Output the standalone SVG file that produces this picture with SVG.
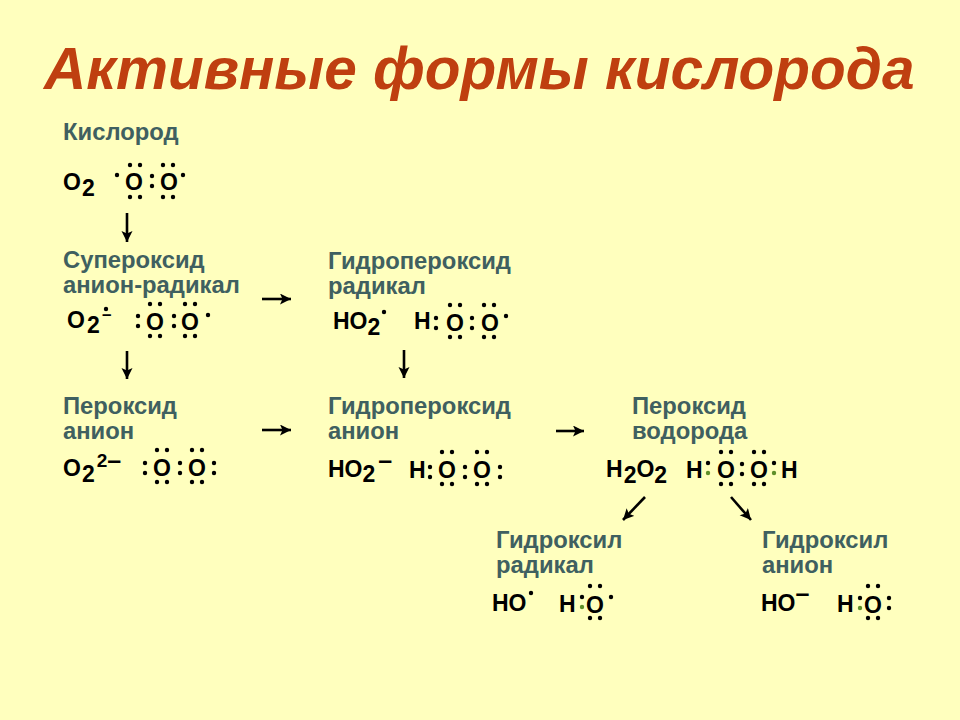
<svg xmlns="http://www.w3.org/2000/svg" width="960" height="720" viewBox="0 0 960 720">
<style>
text{font-family:"Liberation Sans",Arial,sans-serif;font-weight:bold}
.t{font-size:58.500px;font-style:italic;fill:#bf3f10}
.l{font-size:23.800px;fill:#3f6060}
.f,.o{font-size:23px;fill:#000}
.o{text-anchor:middle}
.m{font-size:25px}
.c{stroke:#000;stroke-width:2.600;fill:none;marker-end:url(#a)}
circle{fill:#000}
.g{fill:#5f8f2a}
</style>
<defs>
<marker id="a" markerUnits="userSpaceOnUse" markerWidth="12" markerHeight="12" refX="11" refY="5.500" orient="auto"><path d="M0 0L11 5.500L0 11L2.500 5.500Z" fill="#000"/></marker>
<g id="lp"><circle cx="-5" cy="-17" r="2.200"/><circle cx="5" cy="-17" r="2.200"/><circle cx="-5" cy="15" r="2.200"/><circle cx="5" cy="15" r="2.200"/></g>
<g id="co"><circle cy="-5" r="2.200"/><circle cy="5" r="2.200"/></g>
<g id="cg"><circle cy="-5" r="2.200"/><circle class="g" cy="5" r="2.200"/></g>
<circle id="d" r="2.200"/>
</defs>
<rect id="bg" width="960" height="720" fill="#ffffbe"/>
<text class="t" x="44" y="89">Активные формы кислорода</text>

<g id="connectors">
<path class="c" d="M127 213V242"/>
<path class="c" d="M127 351V379"/>
<path class="c" d="M262 299H291"/>
<path class="c" d="M262 430H291"/>
<path class="c" d="M404 350V378"/>
<path class="c" d="M556 431H584"/>
<path class="c" d="M645 497L623 520"/>
<path class="c" d="M731 497L751 520"/>
</g>

<g id="oxygen">
<text class="l" x="63" y="140">Кислород</text>
<text class="f" x="63" y="190">O<tspan dy="6" dx="1">2</tspan></text>
<text class="o" x="134" y="190">O</text><text class="o" x="169" y="190">O</text>
<use href="#lp" x="135" y="182"/><use href="#lp" x="168" y="182"/>
<use href="#d" x="117" y="175"/><use href="#co" x="152" y="181"/><use href="#d" x="183" y="175"/>
</g>

<g id="superoxide">
<text class="l" x="63" y="268">Супероксид</text>
<text class="l" x="63" y="293">анион-радикал</text>
<text class="f" x="67" y="328">O<tspan dy="5" dx="2">2</tspan></text>
<use href="#d" x="106" y="309"/><text class="f" font-size="17" style="font-size:17px" x="102" y="320">–</text>
<text class="o" x="155" y="330">O</text><text class="o" x="190" y="330">O</text>
<use href="#lp" x="155" y="321"/><use href="#lp" x="190" y="321"/>
<use href="#co" x="138" y="321"/><use href="#co" x="174" y="321"/><use href="#d" x="208" y="315"/>
</g>

<g id="hydroperoxyl">
<text class="l" x="328" y="269">Гидропероксид</text>
<text class="l" x="328" y="294">радикал</text>
<text class="f" x="333" y="329">HO<tspan dy="6">2</tspan></text>
<use href="#d" x="384" y="312"/>
<text class="f" x="414" y="329">H</text>
<text class="o" x="455" y="331">O</text><text class="o" x="490" y="331">O</text>
<use href="#lp" x="455" y="322"/><use href="#lp" x="489" y="322"/>
<use href="#co" x="436" y="323"/><use href="#co" x="472" y="323"/><use href="#d" x="506" y="316"/>
</g>

<g id="peroxide">
<text class="l" x="63" y="414">Пероксид</text>
<text class="l" x="63" y="439">анион</text>
<text class="f" x="63" y="476">O<tspan dy="6" dx="1">2</tspan><tspan dy="-15" dx="2" font-size="19">2</tspan><tspan dy="2" class="m">–</tspan></text>
<text class="o" x="162" y="476">O</text><text class="o" x="197" y="476">O</text>
<use href="#lp" x="162" y="467"/><use href="#lp" x="197" y="467"/>
<use href="#co" x="145" y="468"/><use href="#co" x="180" y="468"/><use href="#co" x="214" y="468"/>
</g>

<g id="hydroperoxide">
<text class="l" x="328" y="414">Гидропероксид</text>
<text class="l" x="328" y="439">анион</text>
<text class="f" x="328" y="477">HO<tspan dy="5">2</tspan><tspan dy="-13" dx="3" class="m">–</tspan></text>
<text class="f" x="409" y="478">H</text>
<text class="o" x="447" y="478">O</text><text class="o" x="482" y="478">O</text>
<use href="#lp" x="447" y="469"/><use href="#lp" x="482" y="469"/>
<use href="#co" x="430" y="472"/><use href="#co" x="465" y="472"/><use href="#co" x="500" y="472"/>
</g>

<g id="hydrogen-peroxide">
<text class="l" x="632" y="414">Пероксид</text>
<text class="l" x="632" y="439">водорода</text>
<text class="f" x="606" y="477">H<tspan dy="6" dx="1">2</tspan><tspan dy="-6">O</tspan><tspan dy="6">2</tspan></text>
<text class="f" x="686" y="478">H</text>
<text class="o" x="726" y="478">O</text><text class="o" x="759" y="478">O</text>
<use href="#lp" x="726" y="469"/><use href="#lp" x="759" y="469"/>
<use href="#cg" x="708" y="468"/><use href="#co" x="742" y="469"/><use href="#cg" x="774" y="468"/>
<text class="f" x="781" y="478">H</text>
</g>

<g id="hydroxyl-radical">
<text class="l" x="496" y="548">Гидроксил</text>
<text class="l" x="496" y="573">радикал</text>
<text class="f" x="492" y="611">HO</text>
<use href="#d" x="531" y="593"/>
<text class="f" x="559" y="612">H</text>
<text class="o" x="595" y="613">O</text>
<use href="#lp" x="595" y="603"/>
<use href="#cg" x="582" y="602"/><use href="#d" x="611" y="597"/>
</g>

<g id="hydroxyl-anion">
<text class="l" x="762" y="548">Гидроксил</text>
<text class="l" x="762" y="573">анион</text>
<text class="f" x="761" y="611">HO<tspan dy="-9" class="m">–</tspan></text>
<text class="f" x="837" y="612">H</text>
<text class="o" x="873" y="613">O</text>
<use href="#lp" x="873" y="603"/>
<use href="#cg" x="860" y="603"/><use href="#co" x="889" y="603"/>
</g>
</svg>
